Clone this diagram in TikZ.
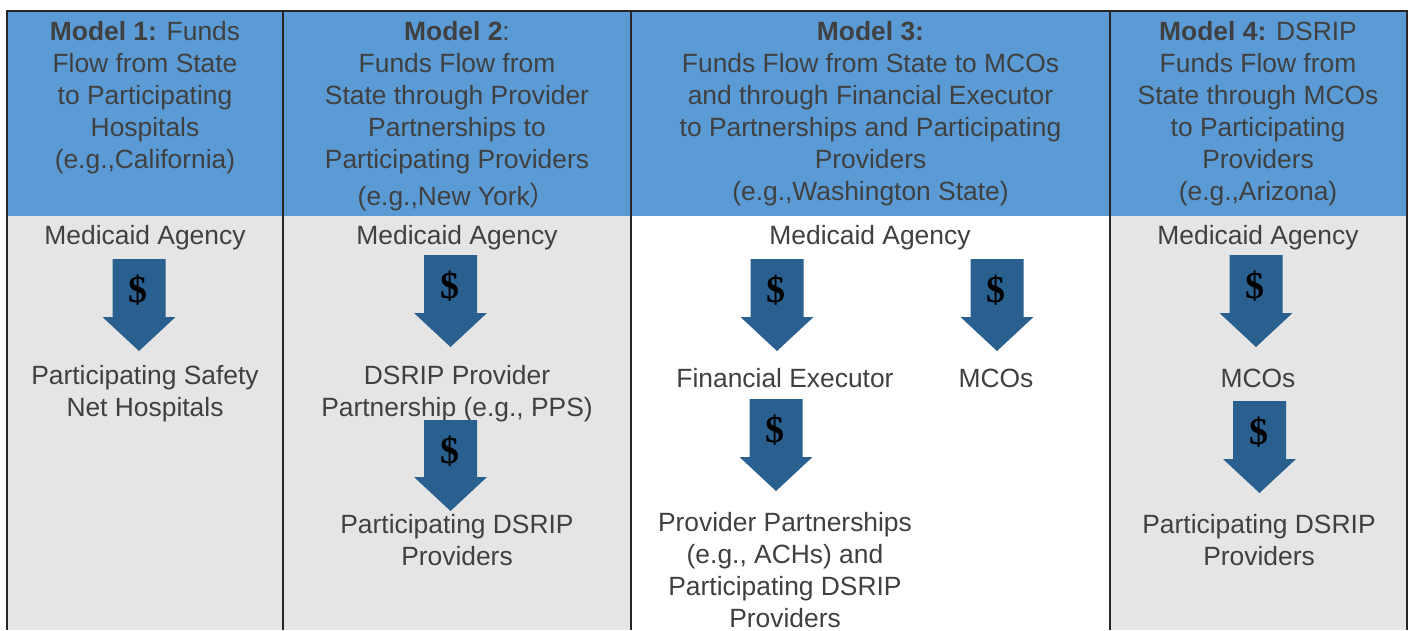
\documentclass[tikz,border=0pt]{standalone}
\usepackage{fontspec}
\setmainfont{Liberation Sans}
\newfontfamily\cjk{Noto Sans CJK SC}
\newfontfamily\dollarfont{Liberation Serif}
\definecolor{hdrblue}{HTML}{5B9BD5}
\definecolor{bodygrey}{HTML}{E5E5E5}
\definecolor{txtgrey}{HTML}{404040}
\definecolor{arrowblue}{HTML}{29608F}
\definecolor{framecol}{HTML}{262626}
\tikzset{
  lbl/.style={font=\fontsize{26.4}{32}\selectfont, text=txtgrey, align=center, inner sep=0pt},
  dollar/.style={font=\dollarfont\bfseries\fontsize{38}{40}\selectfont, text=black, inner sep=0pt},
  pics/dollararrow/.style n args={2}{code={
    \fill[arrowblue] (-26.5,0) -- (26.5,0) -- (26.5,#1) -- (36.5,#1)
      -- (0,#1+34) -- (-36.5,#1) -- (-26.5,#1) -- cycle;
    \node[dollar] (#2) at (-1,31) {\$};
  }}
}
\begin{document}
\begin{tikzpicture}[x=1pt,y=-1pt]
\useasboundingbox (0,0) rectangle (1411,630);
\fill[white] (0,0) rectangle (1411,630);
% column backgrounds
\fill[hdrblue] (7,11) rectangle (1407,216);
\fill[bodygrey] (7,216) rectangle (631,630);
\fill[bodygrey] (1110,216) rectangle (1407,630);
% frame and column rules
\draw[framecol, line width=2pt] (7,630) -- (7,11) -- (1407,11) -- (1407,630);
\draw[framecol, line width=1.4pt] (283,11) -- (283,630);
\draw[framecol, line width=1.4pt] (631,11) -- (631,630);
\draw[framecol, line width=1.4pt] (1110,11) -- (1110,630);

% headers
\node[lbl] (h1) at (145,98) {\textbf{Model 1:} Funds\\Flow from State\\to Participating\\Hospitals\\(e.g.,California)};
\node[lbl] (h2) at (457,116) {\textbf{Model 2}:\\Funds Flow from\\State through Provider\\Partnerships to\\Participating Providers\\[5pt](e.g.,New York\cjk{）}};
\node[lbl] (h3) at (870.5,114) {\textbf{Model 3:}\\Funds Flow from State to MCOs\\and through Financial Executor\\to Partnerships and Participating\\Providers\\(e.g.,Washington State)};
\node[lbl] (h4) at (1258,114) {\textbf{Model 4:} DSRIP\\Funds Flow from\\State through MCOs\\to Participating\\Providers\\(e.g.,Arizona)};

% model 1
\node[lbl] (m1a) at (145,238) {Medicaid Agency};
\node[lbl] (m1b) at (145,394) {Participating Safety\\Net Hospitals};
\pic at (139,259) {dollararrow={58}{d1}};

% model 2
\node[lbl] (m2a) at (457,238) {Medicaid Agency};
\node[lbl] (m2b) at (457,394) {DSRIP Provider\\Partnership (e.g., PPS)};
\node[lbl] (m2c) at (457,540) {Participating DSRIP\\Providers};
\pic at (450.5,255) {dollararrow={58}{d2}};
\pic at (450.5,420) {dollararrow={57}{d3}};

% model 3
\node[lbl] (m3a) at (870,238) {Medicaid Agency};
\node[lbl] (m3b) at (785,378) {Financial Executor};
\node[lbl] (m3c) at (996,378) {MCOs};
\node[lbl] (m3d) at (785,570) {Provider Partnerships\\(e.g., ACHs) and\\Participating DSRIP\\Providers};
\pic at (777,259) {dollararrow={58}{d4}};
\pic at (997,259) {dollararrow={58}{d5}};
\pic at (776,399) {dollararrow={58}{d6}};

% model 4
\node[lbl] (m4a) at (1258,238) {Medicaid Agency};
\node[lbl] (m4b) at (1258,378) {MCOs};
\node[lbl] (m4c) at (1259,540) {Participating DSRIP\\Providers};
\pic at (1256,255) {dollararrow={58}{d7}};
\pic at (1259.5,401) {dollararrow={58}{d8}};
\end{tikzpicture}
\end{document}
